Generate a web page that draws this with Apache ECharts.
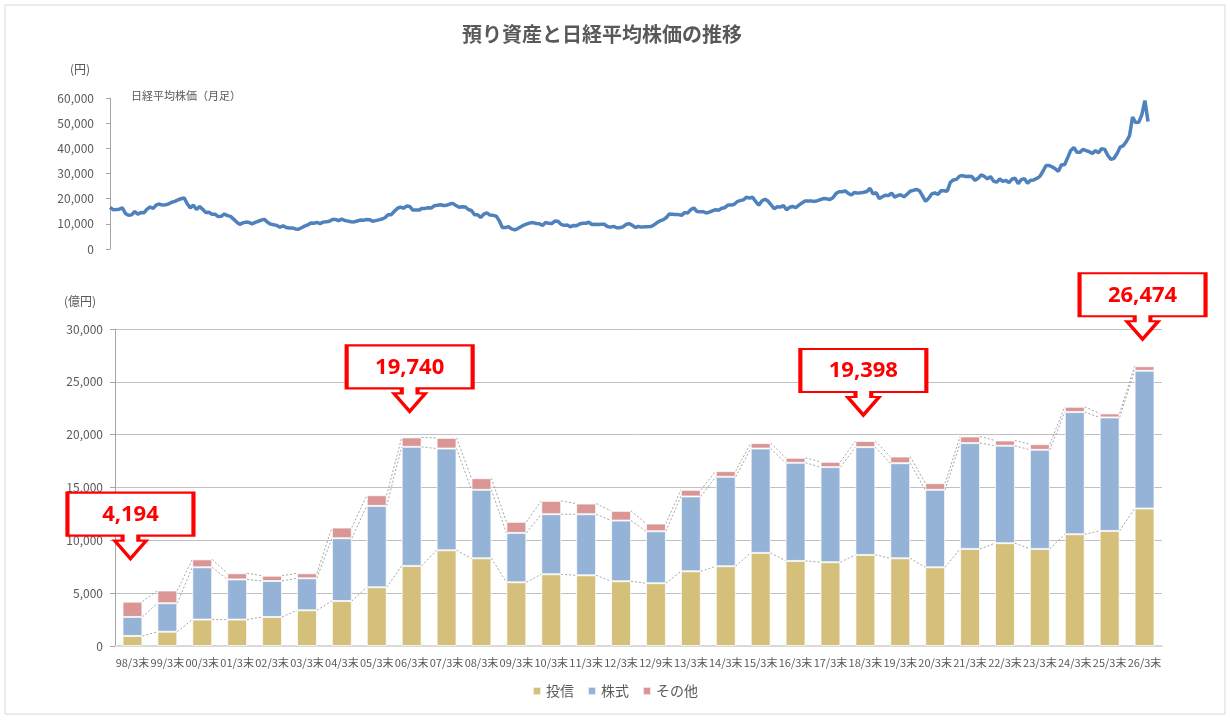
<!DOCTYPE html>
<html>
<head>
<meta charset="utf-8">
<script src="https://cdn.jsdelivr.net/npm/echarts@6.0.0/dist/echarts.min.js"></script>
<style>
  html, body { margin: 0; padding: 0; background: #fff; }
  #main { width: 1230px; height: 721px; }
</style>
</head>
<body>
<div id="main"></div>
<script>
// 預り資産（億円）
const categories = ['98/3末', '99/3末', '00/3末', '01/3末', '02/3末', '03/3末', '04/3末', '05/3末', '06/3末', '07/3末',
  '08/3末', '09/3末', '10/3末', '11/3末', '12/3末', '12/9末', '13/3末', '14/3末', '15/3末', '16/3末',
  '17/3末', '18/3末', '19/3末', '20/3末', '21/3末', '22/3末', '23/3末', '24/3末', '25/3末', '26/3末'];
const toushin = [950, 1350, 2500, 2500, 2750, 3380, 4260, 5560, 7580, 9060,
  8300, 6030, 6790, 6690, 6130, 5940, 7070, 7550, 8810, 8050,
  7930, 8620, 8300, 7450, 9190, 9730, 9190, 10580, 10890, 13010];
const kabushiki = [1800, 2700, 4950, 3800, 3400, 3030, 5940, 7700, 11270, 9630,
  6480, 4670, 5680, 5780, 5740, 4920, 7080, 8460, 9880, 9290,
  9000, 10200, 9000, 7330, 10010, 9220, 9380, 11560, 10740, 13040];
const sonota = [1444, 1200, 750, 580, 500, 470, 1010, 1010, 890, 1010,
  1100, 1050, 1260, 1010, 920, 730, 630, 540, 510, 470,
  500, 578, 630, 630, 630, 500, 530, 500, 380, 424];

// 吹き出しを付ける時点
const calloutCats = ['98/3末', '06/3末', '18/3末', '26/3末'];
const calloutGap = [43, 26, 26, 27];

// 日経平均株価（月末終値）1998/3 〜 2026/3
const nikkei = [
  16527, 15641, 15671, 15830, 16379, 14108, 13406, 13564, 14883, 13842, // 1998
  14499, 14368, 15837, 16702, 16112, 17530, 17862, 17437, 17605, 17942, 18558, 18934, // 1999
  19540, 19960, 20337, 17974, 16332, 17411, 15727, 16861, 15747, 14540, 14649, 13786, // 2000
  13844, 12884, 12999, 13934, 13262, 12969, 11861, 10714, 9775, 10367, 10697, 10543, // 2001
  9998, 10588, 11025, 11493, 11764, 10622, 9877, 9619, 9383, 8640, 9216, 8579, // 2002
  8340, 8363, 7973, 7831, 8425, 9083, 9563, 10344, 10219, 10560, 10101, 10677, // 2003
  10784, 11042, 11715, 11762, 11236, 11859, 11326, 11082, 10824, 10771, 11113, 11489, // 2004
  11388, 11740, 11669, 11009, 11277, 11584, 11900, 12414, 13574, 13607, 14872, 16111, // 2005
  16650, 16205, 17060, 16906, 15467, 15505, 15457, 16141, 16128, 16399, 16274, 17226, // 2006
  17383, 17604, 17288, 17400, 17876, 18138, 17249, 16569, 16786, 16737, 15681, 15308, // 2007
  13592, 13603, 12526, 13850, 14339, 13481, 13377, 13073, 11260, 8577, 8512, 8860, // 2008
  7994, 7568, 8110, 8828, 9523, 9958, 10357, 10493, 10133, 10035, 9346, 10546, // 2009
  10198, 10126, 11090, 11057, 9769, 9383, 9537, 8824, 9369, 9202, 9937, 10229, // 2010
  10238, 10624, 9755, 9850, 9694, 9816, 9833, 8955, 8700, 8988, 8435, 8455, // 2011
  8803, 9723, 10084, 9521, 8543, 9007, 8695, 8840, 8870, 8928, 9446, 10395, // 2012
  11139, 11559, 12398, 13861, 13775, 13677, 13668, 13389, 14456, 14328, 15662, 16291, // 2013
  14915, 14841, 14828, 14304, 14632, 15162, 15621, 15425, 16174, 16414, 17460, 17451, // 2014
  17674, 18798, 19207, 19520, 20563, 20236, 20585, 18890, 17388, 19083, 19747, 19034, // 2015
  17518, 16027, 16759, 16666, 17235, 15576, 16569, 16887, 16450, 17425, 18308, 19114, // 2016
  19041, 19119, 18909, 19197, 19651, 20033, 19925, 19646, 20356, 22012, 22725, 22765, // 2017
  23098, 22068, 21454, 22468, 22202, 22305, 22554, 22865, 24120, 21920, 22351, 20015, // 2018
  20773, 21385, 21206, 22259, 20601, 21276, 21522, 20704, 21756, 22927, 23294, 23657, // 2019
  23205, 21143, 18917, 20194, 21878, 22288, 21710, 23140, 23185, 22977, 26434, 27444, // 2020
  27663, 28966, 29179, 28813, 28860, 28792, 27284, 28090, 29453, 28893, 27822, 28792, // 2021
  27002, 26527, 27821, 26848, 27280, 26393, 27802, 28092, 25937, 27587, 27969, 26095, // 2022
  27327, 27446, 28041, 28856, 30888, 33189, 33172, 32619, 31858, 30859, 33487, 33464, // 2023
  36287, 39166, 40369, 38406, 38488, 39583, 39102, 38648, 37920, 39081, 38208, 39895, // 2024
  39572, 37156, 35618, 36045, 37965, 40487, 41070, 42718, 44933, 52411, 50254, 50339, // 2025
  53300, 59000, 50700 // 2026
];

// 月のラベル（表示はしない）
const months = [];
for (let y = 1998, m = 3; months.length < nikkei.length; m++) {
  if (m > 12) { m = 1; y++; }
  months.push(y + '/' + m);
}

const fmt = v => Number(v).toLocaleString('en-US');
const font = "'Noto Sans CJK JP', 'Noto Sans', sans-serif";
const gray = '#595959';
const barRatio = 0.57;

// 積み上げの各境界値
const lvl1 = toushin.slice();
const lvl2 = toushin.map((v, i) => v + kabushiki[i]);
const lvl3 = lvl2.map((v, i) => v + sonota[i]);

// 区分線（棒の間の点線）用データ
const seriesLineData = [];
for (let i = 0; i < categories.length - 1; i++) {
  seriesLineData.push([i, lvl1[i], lvl2[i], lvl3[i], lvl1[i + 1], lvl2[i + 1], lvl3[i + 1]]);
}

// 下向き矢印付きの吹き出し
const calloutPath = 'path://M0 0H128V43H72V48H80L64 66L48 48H56V43H0Z';
const calloutData = calloutCats.map((c, k) => {
  const i = categories.indexOf(c);
  return {
    coord: [c, lvl3[i]],
    value: lvl3[i],
    symbolSize: [126, 66],
    symbolOffset: [-2, -(33 + calloutGap[k])]
  };
});

var myChart = echarts.init(document.getElementById('main'));

var option = {
  backgroundColor: '#fff',
  textStyle: { fontFamily: font },
  animation: false,
  title: {
    text: '預り資産と日経平均株価の推移',
    left: 462,
    top: 24,
    padding: 0,
    textStyle: { fontSize: 20, fontWeight: 'bold', color: gray, fontFamily: font }
  },
  graphic: [
    {
      type: 'rect',
      shape: { x: 5, y: 5, width: 1220, height: 709 },
      style: { fill: 'none', stroke: '#d9d9d9', lineWidth: 1 },
      silent: true
    },
    { type: 'text', left: 70, top: 63, style: { text: '(円)', fill: gray, font: '12px ' + font } },
    { type: 'text', left: 64, top: 295, style: { text: '(億円)', fill: gray, font: '12px ' + font } },
    { type: 'text', left: 131, top: 90, style: { text: '日経平均株価（月足）', fill: gray, font: '11px ' + font } }
  ],
  legend: {
    data: ['投信', '株式', 'その他'],
    left: 'center',
    top: 679,
    icon: 'rect',
    itemWidth: 8,
    itemHeight: 8,
    itemGap: 13,
    textStyle: { fontSize: 14, color: gray, fontFamily: font }
  },
  grid: [
    { left: 110, right: 82, top: 98, height: 151 },
    { left: 115, right: 68, top: 329, height: 317 }
  ],
  xAxis: [
    {
      gridIndex: 0,
      type: 'category',
      data: months,
      boundaryGap: false,
      axisLine: { show: false },
      axisTick: { show: false },
      axisLabel: { show: false },
      splitLine: { show: false }
    },
    {
      gridIndex: 1,
      type: 'category',
      data: categories,
      axisLine: { lineStyle: { color: '#d9d9d9', width: 2 } },
      axisTick: { show: false },
      axisLabel: { interval: 0, fontSize: 11, color: gray, margin: 11, fontFamily: font }
    }
  ],
  yAxis: [
    {
      gridIndex: 0,
      type: 'value',
      min: 0,
      max: 60000,
      interval: 10000,
      axisLine: { show: true, lineStyle: { color: '#a6a6a6' } },
      axisTick: { show: true, length: 4, lineStyle: { color: '#a6a6a6' } },
      axisLabel: { formatter: fmt, fontSize: 12, color: gray, margin: 16, fontFamily: font },
      splitLine: { show: false }
    },
    {
      gridIndex: 1,
      type: 'value',
      min: 0,
      max: 30000,
      interval: 5000,
      axisLine: { show: true, lineStyle: { color: '#a6a6a6' } },
      axisTick: { show: true, length: 5, lineStyle: { color: '#a6a6a6' } },
      axisLabel: { formatter: fmt, fontSize: 12, color: gray, margin: 12, fontFamily: font },
      splitLine: { lineStyle: { color: '#c0c0c0' } }
    }
  ],
  series: [
    {
      name: '日経平均株価',
      type: 'line',
      xAxisIndex: 0,
      yAxisIndex: 0,
      data: nikkei,
      showSymbol: false,
      lineStyle: { color: '#4F81BD', width: 3.5 },
      itemStyle: { color: '#4F81BD' },
      silent: true
    },
    {
      name: 'series-lines',
      type: 'custom',
      xAxisIndex: 1,
      yAxisIndex: 1,
      data: seriesLineData,
      encode: { x: 0, y: [1, 2, 3, 4, 5, 6] },
      z: 1,
      silent: true,
      renderItem: function (params, api) {
        const i = api.value(0);
        const half = api.size([1, 0])[0] * barRatio / 2;
        const children = [];
        for (let k = 1; k <= 3; k++) {
          const p0 = api.coord([i, api.value(k)]);
          const p1 = api.coord([i + 1, api.value(k + 3)]);
          children.push({
            type: 'line',
            shape: { x1: p0[0] + half, y1: p0[1], x2: p1[0] - half, y2: p1[1] },
            style: { stroke: '#a6a6a6', lineWidth: 1, lineDash: [2, 2] }
          });
        }
        return { type: 'group', children: children };
      }
    },
    {
      name: '投信',
      type: 'bar',
      xAxisIndex: 1,
      yAxisIndex: 1,
      stack: 'total',
      barWidth: (barRatio * 100) + '%',
      data: toushin,
      z: 2,
      itemStyle: { color: '#D4C07A', borderColor: 'rgba(255,255,255,0.7)', borderWidth: 1 }
    },
    {
      name: '株式',
      type: 'bar',
      xAxisIndex: 1,
      yAxisIndex: 1,
      stack: 'total',
      data: kabushiki,
      z: 2,
      itemStyle: { color: '#95B3D7', borderColor: 'rgba(255,255,255,0.7)', borderWidth: 1 }
    },
    {
      name: 'その他',
      type: 'bar',
      xAxisIndex: 1,
      yAxisIndex: 1,
      stack: 'total',
      data: sonota,
      z: 2,
      itemStyle: { color: '#DA9694', borderColor: 'rgba(255,255,255,0.7)', borderWidth: 1 },
      markPoint: {
        symbol: calloutPath,
        silent: true,
        itemStyle: { color: '#fff', borderColor: '#FF0000', borderWidth: 3 },
        label: {
          show: true,
          position: 'inside',
          offset: [0, -11],
          formatter: p => fmt(p.value),
          color: '#FF0000',
          fontSize: 22,
          fontWeight: 'bold',
          fontFamily: "'Noto Sans', sans-serif"
        },
        data: calloutData
      }
    }
  ]
};

myChart.setOption(option);
</script>
</body>
</html>
